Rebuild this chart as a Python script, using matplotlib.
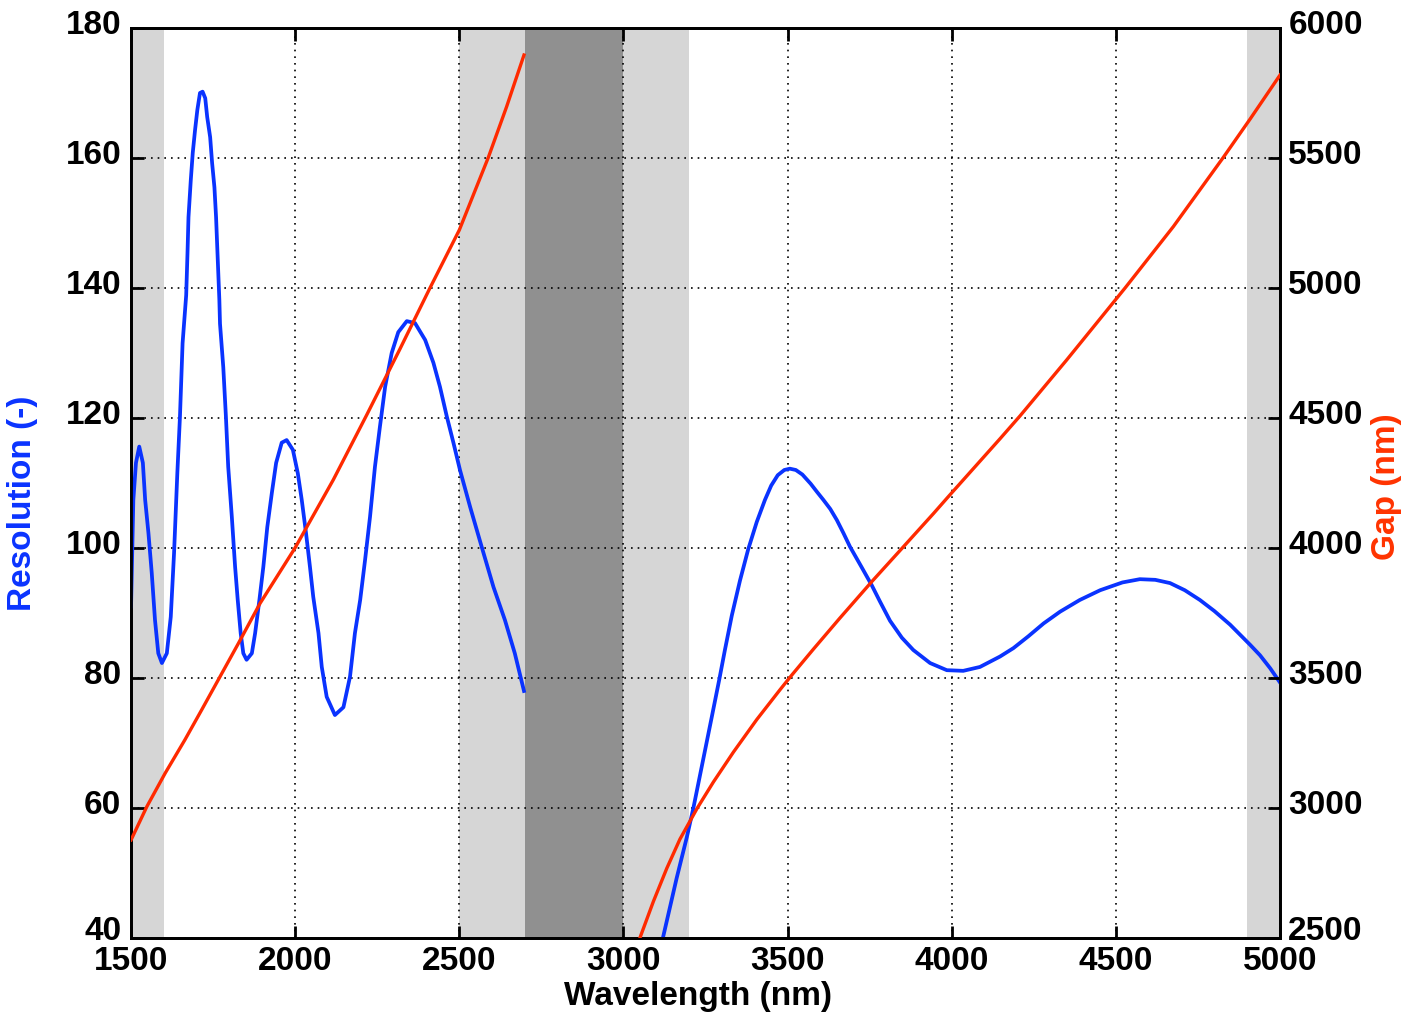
import matplotlib
matplotlib.use("Agg")
import matplotlib.pyplot as plt
import matplotlib.transforms as mtransforms

# ---------------- data ----------------
# Resolution (left axis), band 1
wl_res_1 = [1500, 1507, 1515, 1525, 1536, 1543, 1553, 1563, 1573, 1583, 1594,
            1609, 1621, 1631, 1641, 1649, 1657, 1668, 1672, 1675, 1682, 1688,
            1695, 1702, 1710, 1718, 1726, 1732, 1741, 1747, 1754, 1759, 1763,
            1769, 1771, 1781, 1789, 1796, 1807, 1817, 1825, 1834, 1842, 1852,
            1868, 1878, 1891, 1903, 1915, 1929, 1942, 1959, 1974, 1993, 2008,
            2020, 2033, 2045, 2055, 2071, 2081, 2096, 2121, 2147, 2167, 2182,
            2198, 2213, 2228, 2243, 2258, 2274, 2294, 2314, 2340, 2365, 2396,
            2421, 2441, 2462, 2482, 2502, 2533, 2568, 2604, 2639, 2669, 2697]
res_1 = [91.0, 107.4, 113.1, 115.6, 113.1, 107.4, 102.3, 96.2, 88.9, 83.8, 82.3,
         83.8, 89.4, 99.2, 111.5, 120.2, 131.5, 138.9, 145.4, 150.9, 156.6, 160.8,
         164.3, 167.4, 170.0, 170.2, 169.2, 166.3, 163.2, 159.2, 155.5, 150.9, 145.8,
         138.2, 134.5, 127.8, 120.2, 112.5, 104.8, 97.1, 92.0, 86.9, 83.8, 82.8,
         83.8, 86.9, 92.0, 97.1, 103.2, 108.5, 113.1, 116.2, 116.6, 115.1, 111.5,
         107.4, 102.3, 97.1, 92.5, 86.9, 81.7, 77.1, 74.3, 75.5, 80.2, 86.9,
         92.0, 98.2, 104.8, 112.5, 118.6, 124.8, 130.0, 133.2, 134.9, 134.6, 132.0,
         128.5, 124.8, 120.2, 116.2, 112.0, 106.3, 100.2, 94.0, 88.9, 83.8, 78.0]

# Resolution (left axis), band 2
wl_res_2 = [3115, 3121, 3162, 3193, 3213, 3243, 3269, 3292, 3309, 3330, 3355,
            3380, 3406, 3431, 3450, 3470, 3490, 3507, 3525, 3545, 3570, 3590,
            3609, 3630, 3650, 3670, 3690, 3726, 3756, 3781, 3812, 3848, 3883,
            3934, 3985, 4035, 4086, 4147, 4188, 4233, 4280, 4330, 4390, 4452,
            4520, 4573, 4620, 4665, 4710, 4756, 4800, 4848, 4909, 4939, 4970,
            5000]
res_2 = [39.0, 40.2, 49.2, 55.5, 60.0, 67.5, 74.0, 79.8, 84.3, 89.6, 95.0,
         99.8, 104.0, 107.4, 109.6, 111.2, 112.0, 112.2, 112.0, 111.3, 109.9, 108.6,
         107.4, 106.0, 104.3, 102.3, 100.2, 97.0, 94.3, 91.8, 88.8, 86.2, 84.3,
         82.3, 81.2, 81.1, 81.7, 83.3, 84.6, 86.4, 88.4, 90.2, 92.0, 93.5,
         94.7, 95.2, 95.1, 94.6, 93.5, 92.0, 90.3, 88.2, 85.1, 83.5, 81.5,
         79.3]

# Gap (right axis), band 1
wl_gap_1 = [1500, 1548, 1604, 1664, 1715, 1771, 1827, 1893, 1999, 2116, 2218,
            2319, 2411, 2500, 2588, 2644, 2697]
gap_1 = [2877, 3005, 3134, 3262, 3377, 3505, 3633, 3787, 3999, 4262, 4512,
         4765, 5001, 5223, 5501, 5697, 5896]

# Gap (right axis), band 2
wl_gap_2 = [3050, 3091, 3132, 3172, 3225, 3274, 3335, 3406, 3477, 3512, 3578,
            3659, 3756, 3848, 3944, 3990, 4147, 4208, 4350, 4528, 4675, 4826,
            4909, 5000]
gap_2 = [2500, 2640, 2768, 2880, 3000, 3100, 3215, 3340, 3455, 3510, 3610,
         3730, 3870, 3998, 4132, 4198, 4420, 4508, 4723, 5000, 5236, 5500,
         5650, 5819]

# shaded bands (nm)
light_bands = [(1500, 1600), (2500, 2700), (3000, 3200), (4900, 5000)]
dark_bands = [(2700, 3000)]

x_ticks = [1500, 2000, 2500, 3000, 3500, 4000, 4500, 5000]
res_ticks = [40, 60, 80, 100, 120, 140, 160, 180]
gap_ticks = [2500, 3000, 3500, 4000, 4500, 5000, 5500, 6000]

# ---------------- styling ----------------
plt.rcParams['font.family'] = ['Liberation Sans', 'DejaVu Sans']
plt.rcParams['font.weight'] = 'bold'
FS = 24
BLUE = '#0a33ff'
RED = '#ff2a00'

fig = plt.figure(figsize=(14.06, 10.21), dpi=100)
ax = fig.add_axes([0.0932, 0.0813, 0.8172, 0.8913])

for a, b in light_bands:
    ax.axvspan(a, b, color='#d6d6d6', lw=0, zorder=0.1)
for a, b in dark_bands:
    ax.axvspan(a, b, color='#909090', lw=0, zorder=0.1)

ax.set_axisbelow(True)
ax.grid(True, color='black', linestyle=(0, (1, 3)), linewidth=1.2)

ax.plot(wl_res_1, res_1, color=BLUE, lw=2.7, zorder=3, solid_joinstyle='round')
ax.plot(wl_res_2, res_2, color=BLUE, lw=2.7, zorder=3, solid_joinstyle='round')

ax.set_xlim(1500, 5000)
ax.set_ylim(40, 180)
ax.set_xticks(x_ticks)
ax.set_yticks(res_ticks)
ax.tick_params(axis='both', direction='in', length=9, width=2,
               labelsize=FS, top=True)
ax.tick_params(axis='x', pad=6)
ax.tick_params(axis='y', pad=7)
for lab in ax.get_xticklabels() + ax.get_yticklabels():
    lab.set_fontweight('bold')
for s in ax.spines.values():
    s.set_linewidth(2)

ax.set_xlabel('Wavelength (nm)', fontsize=FS, fontweight='bold')
ax.xaxis.set_label_coords(0.4935, -0.047)
ax.set_ylabel('Resolution (-)', fontsize=FS, fontweight='bold', color=BLUE)
ax.yaxis.set_label_coords(-0.081, 0.478)

ax2 = ax.twinx()
ax2.plot(wl_gap_1, gap_1, color=RED, lw=2.4, zorder=4, solid_joinstyle='round')
ax2.plot(wl_gap_2, gap_2, color=RED, lw=2.4, zorder=4, solid_joinstyle='round')
ax2.set_ylim(2500, 6000)
ax2.set_yticks(gap_ticks)
ax2.tick_params(axis='y', direction='in', length=9, width=2,
                labelsize=FS, pad=6)
for lab in ax2.get_yticklabels():
    lab.set_fontweight('bold')
for s in ax2.spines.values():
    s.set_linewidth(2)
ax2.set_ylabel('Gap (nm)', fontsize=FS, fontweight='bold', color='#ff3300',
               rotation=90)
ax2.yaxis.set_label_coords(1.079, 0.496)

# lift y tick labels a few pixels, as in the reference
lift = mtransforms.ScaledTranslation(0, 4.5 / 72, fig.dpi_scale_trans)
extra = mtransforms.ScaledTranslation(0, 2.5 / 72, fig.dpi_scale_trans)
for i, t in enumerate(ax.yaxis.get_major_ticks()):
    tr = t.label1.get_transform() + lift
    if i == 0:
        tr = tr + extra
    t.label1.set_transform(tr)
for i, t in enumerate(ax2.yaxis.get_major_ticks()):
    tr = t.label2.get_transform() + lift
    if i == 0:
        tr = tr + extra
    t.label2.set_transform(tr)

fig.savefig('out.png', dpi=100)
